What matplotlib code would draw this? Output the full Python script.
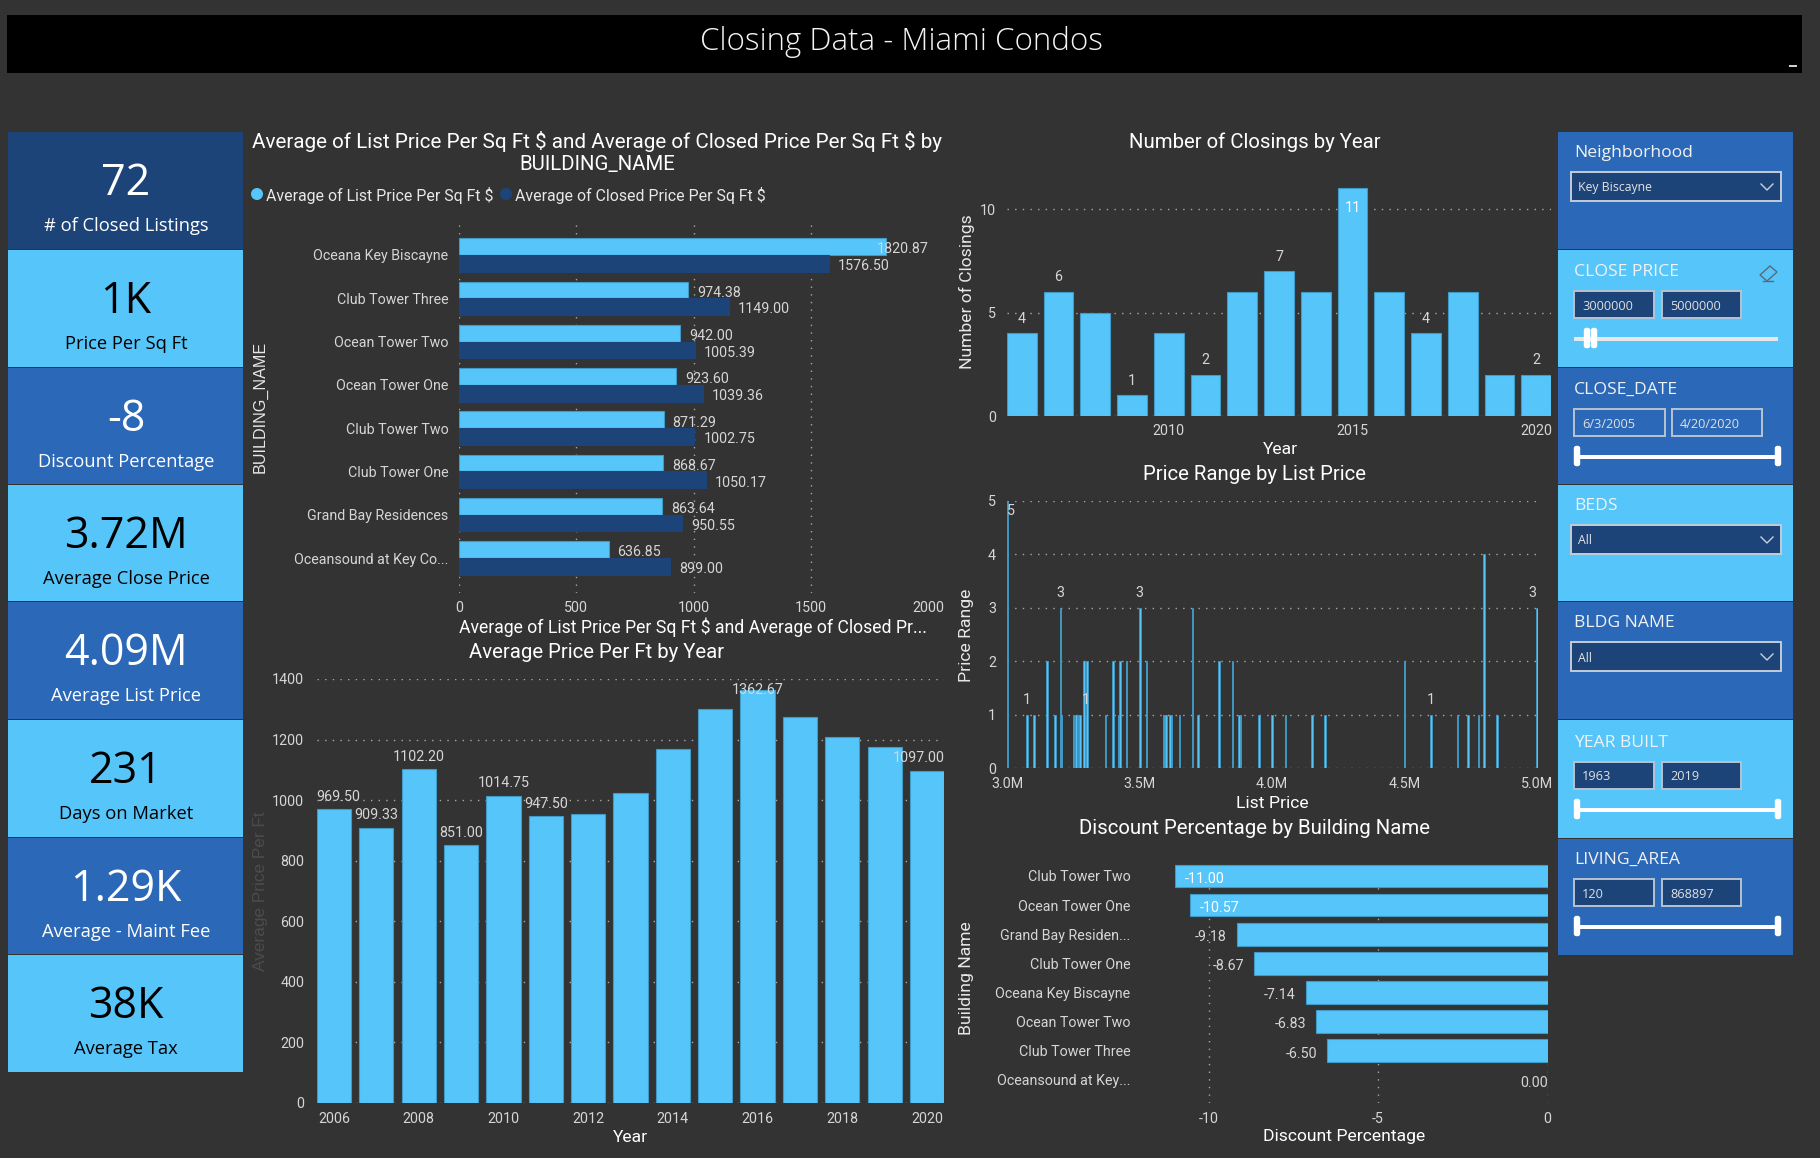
import matplotlib
matplotlib.use('Agg')
import matplotlib.pyplot as plt
from matplotlib.patches import Rectangle, FancyBboxPatch, Circle, Polygon

#################################################
### DATA
kpi_values = ['72', '1K', '-8', '3.72M', '4.09M', '231', '1.29K', '38K']
kpi_labels = ['# of Closed Listings', 'Price Per Sq Ft', 'Discount Percentage', 'Average Close Price',
              'Average List Price', 'Days on Market', 'Average - Maint Fee', 'Average Tax']

buildings = ['Oceana Key Biscayne', 'Club Tower Three', 'Ocean Tower Two', 'Ocean Tower One',
             'Club Tower Two', 'Club Tower One', 'Grand Bay Residences', 'Oceansound at Key Co...']
list_ppsf = [1820.87, 974.38, 942.00, 923.60, 871.29, 868.67, 863.64, 636.85]
closed_ppsf = [1576.50, 1149.00, 1005.39, 1039.36, 1002.75, 1050.17, 950.55, 899.00]

years = [2006, 2007, 2008, 2009, 2010, 2011, 2012, 2013, 2014, 2015, 2016, 2017, 2018, 2019, 2020]
price_per_ft = [969.50, 909.33, 1102.20, 851.00, 1014.75, 947.50, 955, 1024, 1169, 1300, 1362.67, 1274, 1208, 1175, 1097.00]
closings = [4, 6, 5, 1, 4, 2, 6, 7, 6, 11, 6, 4, 6, 2, 2]

list_prices = [3.0, 3.075, 3.10, 3.15, 3.18, 3.20, 3.205, 3.25, 3.26, 3.27, 3.275, 3.29, 3.295, 3.30, 3.37,
               3.40, 3.42, 3.425, 3.45, 3.50, 3.525, 3.59, 3.595, 3.60, 3.615, 3.62, 3.65, 3.70, 3.72, 3.80,
               3.85, 3.875, 3.88, 3.95, 4.00, 4.05, 4.15, 4.20, 4.50, 4.60, 4.70, 4.74, 4.78, 4.80, 4.85, 5.0]
price_range = [5, 1, 1, 2, 1, 3, 1, 1, 1, 1, 1, 2, 1, 2, 1,
               2, 1, 2, 2, 3, 2, 1, 1, 1, 1, 1, 1, 3, 1, 2,
               2, 1, 1, 1, 1, 1, 1, 1, 2, 1, 1, 1, 1, 4, 1, 3]

discount_names = ['Club Tower Two', 'Ocean Tower One', 'Grand Bay Residen...', 'Club Tower One',
                  'Oceana Key Biscayne', 'Ocean Tower Two', 'Club Tower Three', 'Oceansound at Key...']
discounts = [-11.00, -10.57, -9.18, -8.67, -7.14, -6.83, -6.50, 0.00]

#################################################
### STYLE
W, H = 1820, 1158
BG = '#333333'
LIGHT = '#56C6FA'
DARK = '#1C4479'
MID = '#2B68B7'
EDGE = '#3F9AC6'
TICK = '#D6D6D6'
GRID = '#A8A8A8'
FONT = 'Roboto'
UI = 'Open Sans'
TITLE_SIZE = 14.7
NAME_SIZE = 12.6

plt.rcParams['font.family'] = FONT
plt.rcParams['axes.unicode_minus'] = False
fig = plt.figure(figsize=(W / 100, H / 100), dpi=100, facecolor=BG)

# full figure layer in pixel coordinates for the tiles and slicers
page = fig.add_axes([0, 0, 1, 1], zorder=0)
page.set_xlim(0, W)
page.set_ylim(H, 0)
page.axis('off')


def box(x0, y0, x1, y1, color, edge='none', lw=0):
    page.add_patch(Rectangle((x0, y0), x1 - x0, y1 - y0, facecolor=color, edgecolor=edge, linewidth=lw))


def label(x, y, s, size=NAME_SIZE, color='white', ha='center', family=FONT, rotation=0, weight='normal'):
    page.text(x, y, s, fontsize=size, color=color, ha=ha, va='center', family=family,
              rotation=rotation, weight=weight)


def px_axes(left, top, right, bottom):
    ax = fig.add_axes([left / W, 1 - bottom / H, (right - left) / W, (bottom - top) / H], zorder=2)
    ax.set_facecolor('none')
    for s in ax.spines.values():
        s.set_visible(False)
    ax.set_axisbelow(True)
    ax.tick_params(length=0, colors=TICK, labelsize=10.3)
    return ax


def dotted(ax, which):
    ax.grid(True, axis=which, color=GRID, linestyle=(0, (1, 4.5)), linewidth=1)


#################################################
### HEADER AND KPI TILES
box(7, 15, 1802, 73, 'black')
box(1789, 65, 1797, 67, '#D0D0D0')
label(901, 42, 'Closing Data - Miami Condos', size=22.5, color='#F4F4F4', family=UI, weight='light')

tile_edges = [132, 250, 368, 485, 602, 720, 838, 955, 1073]
tile_colors = [DARK, LIGHT, MID, LIGHT, MID, LIGHT, MID, LIGHT]
for i in range(len(kpi_values)):
    top = tile_edges[i]
    box(8, top, 243, tile_edges[i + 1] - 1, tile_colors[i])
    fg = 'black' if tile_colors[i] == LIGHT else 'white'
    label(126, top + 52, kpi_values[i], size=31, color=fg, family=UI)
    label(126, top + 94, kpi_labels[i], size=13.2, color=fg, family=UI)

#################################################
### SLICERS
panel_edges = [132, 250, 368, 485, 602, 720, 839, 956]
panel_colors = [MID, LIGHT, MID, LIGHT, MID, LIGHT, MID]
for i in range(len(panel_colors)):
    box(1558, panel_edges[i], 1793, panel_edges[i + 1] - 1, panel_colors[i])


def dropdown(top, title, value):
    label(1574, top + 21, title, size=12.6, ha='left', family=UI, color='#F2F2F2')
    box(1571, top + 40, 1781, top + 69, DARK, edge='#C4CCD8', lw=1.4)
    label(1578, top + 56, value, size=8.8, ha='left', family=UI, color='#E4E4E4')
    page.plot([1761, 1767, 1773], [top + 52, top + 58, top + 52], color='#C8D0DC', lw=1)


def range_slicer(top, title, low, high, wide=False, filled=True, handles=(1577, 1778)):
    label(1574, top + 22, title, size=12.6, ha='left', family=UI, color='#F2F2F2')
    face = DARK if filled else MID
    if wide:
        spans = [(1574, 1665), (1672, 1762)]
    else:
        spans = [(1574, 1654), (1662, 1741)]
    for (x0, x1), s in zip(spans, [low, high]):
        box(x0, top + 41, x1, top + 68, face, edge='#B8C2D0', lw=1.4)
        label(x0 + 8, top + 56, s, size=9.2, ha='left', family=UI, color='#E0E0E0')
    track = '#E8E8E8' if handles[0] != 1577 or handles[1] != 1778 else 'white'
    box(1574, top + 87, 1778, top + 91, track)
    for hx in handles:
        page.add_patch(FancyBboxPatch((hx - 2, top + 79), 4, 18, boxstyle='round,pad=1.2,rounding_size=2.5',
                                      facecolor='white', edgecolor='none'))


dropdown(132, 'Neighborhood', 'Key Biscayne')
range_slicer(250, 'CLOSE PRICE', '3000000', '5000000', handles=(1587, 1594))
range_slicer(368, 'CLOSE_DATE', '6/3/2005', '4/20/2020', wide=True, filled=False)
dropdown(485, 'BEDS', 'All')
dropdown(602, 'BLDG NAME', 'All')
range_slicer(721, 'YEAR BUILT', '1963', '2019')
range_slicer(838, 'LIVING_AREA', '120', '868897')

# eraser icon of the close price slicer
page.add_patch(Polygon([[1760, 275], [1770, 266], [1777, 272], [1767, 281]], closed=True,
                       facecolor='none', edgecolor='#5A6A78', linewidth=1))
page.plot([1763, 1773], [281, 281], color='#5A6A78', lw=1)

#################################################
### LIST VS CLOSED PRICE PER SQ FT
label(597, 142, 'Average of List Price Per Sq Ft \\$ and Average of Closed Price Per Sq Ft \\$ by', size=14.9)
label(597, 165, 'BUILDING_NAME', size=TITLE_SIZE)
page.add_patch(Circle((257, 194), 6, facecolor=LIGHT, edgecolor='none'))
label(266, 195, 'Average of List Price Per Sq Ft \\$', size=11.4, ha='left', color='#E8E8E8')
page.add_patch(Circle((506, 194), 6, facecolor=DARK, edgecolor='none'))
label(515, 195, 'Average of Closed Price Per Sq Ft \\$', size=11.4, ha='left', color='#E8E8E8')
label(260, 407, 'BUILDING_NAME', size=11.6, rotation=90, family='Liberation Sans', color='#E8E8E8')
label(693, 627, 'Average of List Price Per Sq Ft \\$ and Average of Closed Pr...', size=12.7)

ax1 = px_axes(459, 223, 928.5, 593)
pos = list(range(len(buildings)))
bh = 0.385
ax1.barh([p - bh / 2 for p in pos], list_ppsf, height=bh, color=LIGHT, edgecolor=EDGE, linewidth=0.8)
ax1.barh([p + bh / 2 for p in pos], closed_ppsf, height=bh, color=DARK, edgecolor=DARK, linewidth=0.8)
ax1.set_xlim(0, 2000)
ax1.set_ylim(7 + 0.808, -0.739)
ax1.set_yticks(pos)
ax1.set_yticklabels(buildings)
ax1.set_xticks([0, 500, 1000, 1500, 2000])
ax1.tick_params(axis='y', pad=7.5)
ax1.tick_params(axis='x', pad=5.5)
dotted(ax1, 'x')
for p, a, b in zip(pos, list_ppsf, closed_ppsf):
    if a > 1700:
        ax1.annotate('%.2f' % a, (2000, p - bh / 2), xytext=(0, -2), textcoords='offset points',
                     color=TICK, fontsize=10.3, ha='right', va='center')
    else:
        ax1.annotate('%.2f' % a, (a, p - bh / 2), xytext=(6.5, -2), textcoords='offset points',
                     color=TICK, fontsize=10.3, va='center')
    ax1.annotate('%.2f' % b, (b, p + bh / 2), xytext=(6.5, -2), textcoords='offset points',
                 color=TICK, fontsize=10.3, va='center')

#################################################
### AVERAGE PRICE PER FT BY YEAR
label(597, 652, 'Average Price Per Ft by Year', size=TITLE_SIZE)
label(261, 891, 'Average Price Per Ft', size=12.4, rotation=90, family='Liberation Sans', color='#4C4C4C')
label(630, 1138, 'Year')

ax2 = px_axes(316.8, 679, 944.2, 1103)
ax2.bar(years, price_per_ft, width=0.81, color=LIGHT, edgecolor=EDGE, linewidth=0.8)
ax2.set_xlim(2005.595, 2020.405)
ax2.set_ylim(0, 1400)
ax2.set_xticks(years[::2])
ax2.set_yticks(range(0, 1401, 200))
ax2.tick_params(axis='y', pad=9)
ax2.tick_params(axis='x', pad=6.5)
dotted(ax2, 'y')
# label offsets in points, only the bars the report labels
price_label_shift = {2006: (3, 9), 2007: (0, 9), 2008: (0, 9), 2009: (0, 9), 2010: (0, 9), 2011: (0, 9),
                     2016: (0, 0), 2020: (-6, 9)}
for y, v in zip(years, price_per_ft):
    if y in price_label_shift:
        ax2.annotate('%.2f' % v, (y, v), xytext=price_label_shift[y], textcoords='offset points',
                     color=TICK, fontsize=10.3, ha='center', va='center')

#################################################
### NUMBER OF CLOSINGS BY YEAR
label(1254.5, 142, 'Number of Closings by Year', size=TITLE_SIZE)
label(967, 292, 'Number of Closings', color='#E8E8E8', rotation=90)
label(1280, 450, 'Year')

ax3 = px_axes(1007, 185, 1551, 416)
ax3.bar(years, closings, width=0.81, color=LIGHT, edgecolor=EDGE, linewidth=0.8)
ax3.set_xlim(2005.595, 2020.405)
ax3.set_ylim(0, 11.16)
ax3.set_xticks([2010, 2015, 2020])
ax3.set_yticks([0, 5, 10])
ax3.tick_params(axis='y', pad=8)
ax3.tick_params(axis='x', pad=6)
dotted(ax3, 'y')
for y, v in zip(years, closings):
    if y in [2006, 2007, 2009, 2011, 2013, 2017, 2020]:
        ax3.annotate(str(v), (y, v), xytext=(0, 10.5), textcoords='offset points', color=TICK,
                     fontsize=10.3, ha='center', va='center')
    if y == 2015:
        ax3.annotate(str(v), (y, v), xytext=(0, -14), textcoords='offset points', color='white',
                     fontsize=10.3, ha='center', va='center')

#################################################
### PRICE RANGE BY LIST PRICE
label(1254.5, 475, 'Price Range by List Price', size=TITLE_SIZE)
label(967, 635, 'Price Range', color='#E8E8E8', rotation=90)
label(1272, 803, 'List Price')

ax4 = px_axes(1007, 501, 1538, 768)
ax4.bar(list_prices, price_range, width=0.006, color=LIGHT, edgecolor=EDGE, linewidth=0.6)
ax4.set_xlim(2.9985, 5.0045)
ax4.set_ylim(0, 5)
ax4.set_xticks([3.0, 3.5, 4.0, 4.5, 5.0])
ax4.set_xticklabels(['3.0M', '3.5M', '4.0M', '4.5M', '5.0M'])
ax4.set_yticks(range(6))
ax4.tick_params(axis='y', pad=8)
ax4.tick_params(axis='x', pad=6.5)
dotted(ax4, 'y')
range_labels = [3.075, 3.20, 3.295, 3.50, 4.60, 5.0]
for x, v in zip(list_prices, price_range):
    if x in range_labels:
        shift = -3 if x == 5.0 else 0
        ax4.annotate(str(v), (x, v), xytext=(shift, 10.5), textcoords='offset points', color=TICK,
                     fontsize=10.3, ha='center', va='center')
ax4.annotate('5', (list_prices[0], price_range[0]), xytext=(2.5, -7), textcoords='offset points', color=TICK,
             fontsize=10.3, ha='center', va='center')

#################################################
### DISCOUNT PERCENTAGE BY BUILDING NAME
label(1254.5, 828, 'Discount Percentage by Building Name', size=TITLE_SIZE)
label(966, 978, 'Building Name', color='#E8E8E8', rotation=90)
label(1344, 1137, 'Discount Percentage')

ax5 = px_axes(1175, 859, 1547.5, 1103)
pos = list(range(len(discounts)))
ax5.barh(pos, discounts, height=0.78, color=LIGHT, edgecolor=EDGE, linewidth=0.8)
ax5.set_xlim(-11, 0)
ax5.set_ylim(7 + 0.79, -0.58)
ax5.set_yticks(pos)
ax5.set_yticklabels(discount_names)
ax5.set_xticks([-10, -5, 0])
ax5.tick_params(axis='y', pad=32)
ax5.tick_params(axis='x', pad=6.5)
dotted(ax5, 'x')
for p, v in zip(pos, discounts):
    if v < -10:
        ax5.annotate('%.2f' % v, (v, p), xytext=(7, -2), textcoords='offset points', color='white',
                     fontsize=10.3, va='center')
    elif v == 0:
        ax5.annotate('%.2f' % v, (v, p), xytext=(0, -2), textcoords='offset points', color=TICK,
                     fontsize=10.3, ha='right', va='center')
    else:
        ax5.annotate('%.2f' % v, (v, p), xytext=(-7, -2), textcoords='offset points', color=TICK,
                     fontsize=10.3, ha='right', va='center')

plt.savefig('out.png', dpi=100, facecolor=BG)
